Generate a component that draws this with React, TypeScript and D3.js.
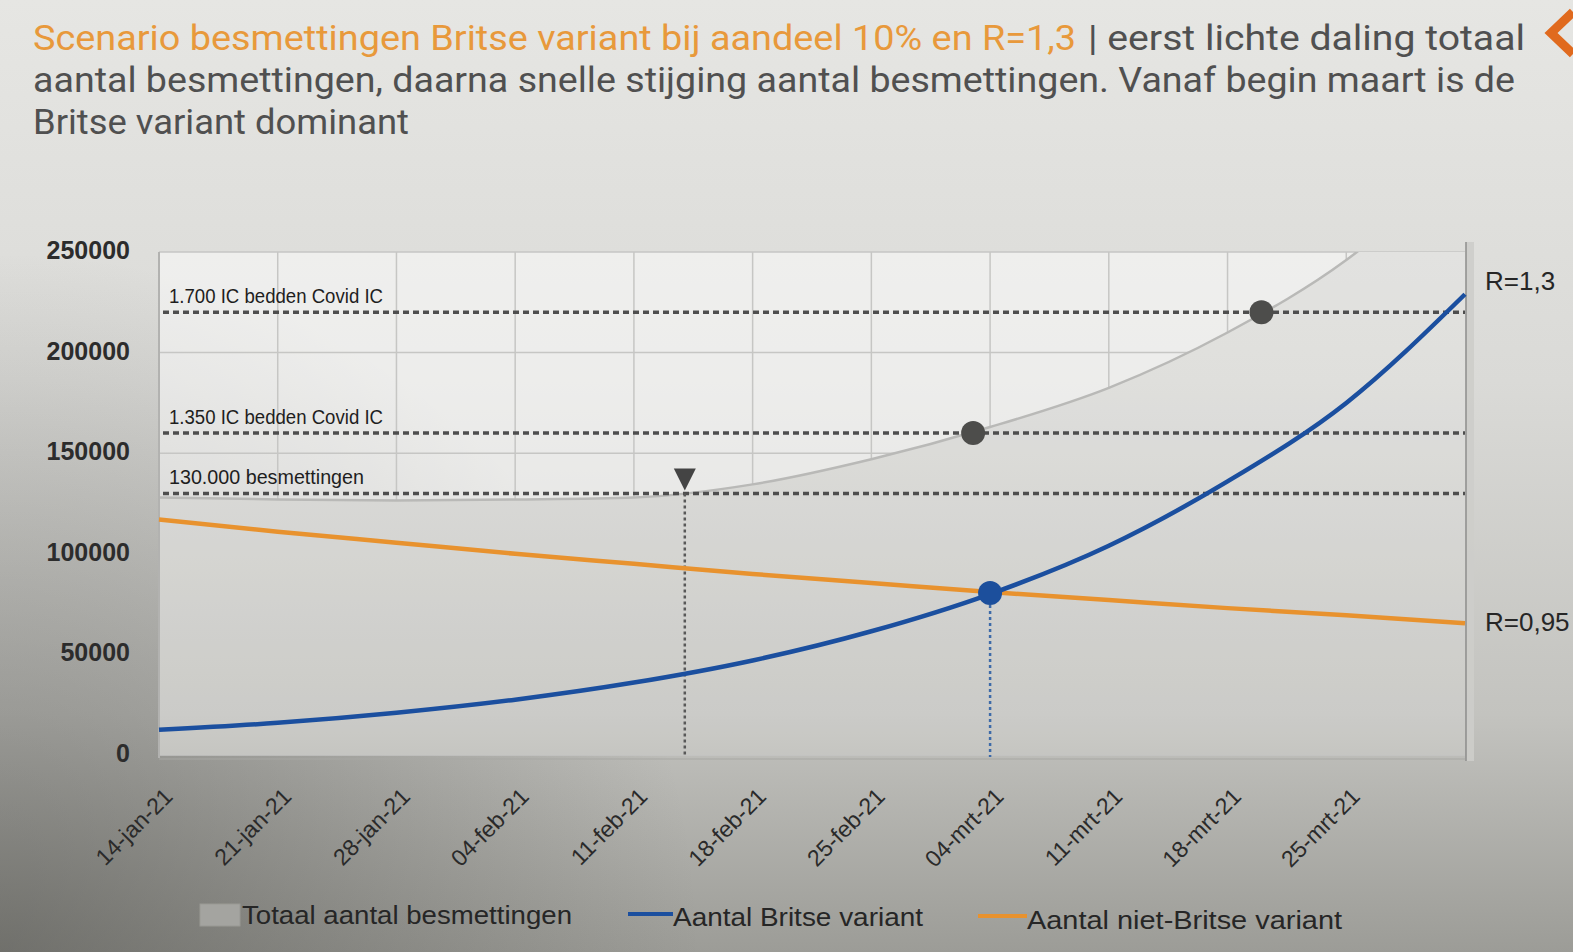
import React, { useEffect, useRef } from 'react';
import * as d3 from 'd3';

// weekly points
const datums = [
  '2021-01-14', '2021-01-21', '2021-01-28', '2021-02-04', '2021-02-11', '2021-02-18',
  '2021-02-25', '2021-03-04', '2021-03-11', '2021-03-18', '2021-03-25', '2021-04-01',
];
const totaal = [128000, 127000, 126500, 127000, 128000, 134500, 147000, 163000, 182500, 210000, 246000, 297000];
const britse = [12500, 16000, 21000, 27500, 36000, 47000, 61500, 80000, 104000, 136000, 175000, 229000];
const nietBritse = [117000, 111000, 105500, 100000, 95000, 90000, 85500, 81000, 77000, 73000, 69500, 65500];

const tickLabels = [
  '14-jan-21', '21-jan-21', '28-jan-21', '04-feb-21', '11-feb-21', '18-feb-21',
  '25-feb-21', '04-mrt-21', '11-mrt-21', '18-mrt-21', '25-mrt-21',
];
const yTicks = [0, 50000, 100000, 150000, 200000, 250000];

const drempels = [
  { value: 220000, label: '1.700 IC bedden Covid IC', len: 214 },
  { value: 160000, label: '1.350 IC bedden Covid IC', len: 214 },
  { value: 130000, label: '130.000 besmettingen', len: 195 },
];

const markers = [
  { date: '2021-02-14', value: 130000, shape: 'triangle' },
  { date: '2021-03-03', value: 160000, shape: 'circle' },
  { date: '2021-03-20', value: 220000, shape: 'circle' },
  { date: '2021-03-04', value: 80500, shape: 'blue' },
];

const ORANGE = '#e8922e';
const BLUE = '#1b4f9f';
const DARK = '#262626';

const App = () => {
  const ref = useRef<SVGSVGElement>(null);

  useEffect(() => {
    const svg = d3.select(ref.current);
    svg.selectAll('*').remove();

    const W = 1573;
    const H = 952;
    const left = 159;
    const right = 1465;
    const top = 252;
    const bottom = 755;

    const parse = d3.utcParse('%Y-%m-%d');
    const dates = datums.map(d => parse(d) as Date);

    const x = d3.scaleUtc().domain([dates[0], dates[dates.length - 1]]).range([left, right]);
    const y = d3.scaleLinear().domain([0, 250000]).range([bottom, top]);

    const defs = svg.append('defs');
    const bg = defs.append('linearGradient').attr('id', 'bg')
      .attr('gradientUnits', 'userSpaceOnUse')
      .attr('x1', 0).attr('y1', 0).attr('x2', 0).attr('y2', H);
    bg.append('stop').attr('offset', '0%').attr('stop-color', '#e6e6e3');
    bg.append('stop').attr('offset', '40%').attr('stop-color', '#dadad7');
    bg.append('stop').attr('offset', '75%').attr('stop-color', '#c3c3bf');
    bg.append('stop').attr('offset', '100%').attr('stop-color', '#9c9c97');

    const vign = defs.append('radialGradient').attr('id', 'vign')
      .attr('gradientUnits', 'userSpaceOnUse')
      .attr('cx', 0).attr('cy', H).attr('r', 700);
    vign.append('stop').attr('offset', '0%').attr('stop-color', '#3a3a36').attr('stop-opacity', 0.45);
    vign.append('stop').attr('offset', '100%').attr('stop-color', '#3a3a36').attr('stop-opacity', 0);

    defs.append('clipPath').attr('id', 'plotClip')
      .append('rect').attr('x', left).attr('y', top).attr('width', right - left).attr('height', bottom - top);

    svg.attr('width', W).attr('height', H);
    svg.append('rect').attr('width', W).attr('height', H).attr('fill', 'url(#bg)');
    svg.append('rect').attr('width', W).attr('height', H).attr('fill', 'url(#vign)');

    // plot background (light, only visible above the area)
    svg.append('rect')
      .attr('x', left).attr('y', top).attr('width', right - left).attr('height', bottom - top)
      .attr('fill', 'rgba(255,255,255,0.5)');

    // grid
    const grid = svg.append('g').attr('stroke', '#c6c6c4').attr('stroke-width', 1.5);
    yTicks.forEach(v => {
      grid.append('line').attr('x1', left).attr('x2', right).attr('y1', y(v)).attr('y2', y(v));
    });
    dates.slice(0, tickLabels.length).forEach(d => {
      grid.append('line').attr('x1', x(d)).attr('x2', x(d)).attr('y1', top).attr('y2', bottom);
    });

    const rows = dates.map((d, i) => ({ date: d, totaal: totaal[i], britse: britse[i], niet: nietBritse[i] }));

    // total as area
    const area = d3.area<any>()
      .x(d => x(d.date)).y0(bottom).y1(d => y(d.totaal))
      .curve(d3.curveMonotoneX);
    const plot = svg.append('g').attr('clip-path', 'url(#plotClip)');
    plot.append('path').datum(rows).attr('d', area).attr('fill', 'url(#bg)');
    plot.append('path').datum(rows).attr('d', area).attr('fill', 'rgba(255,255,255,0.14)');
    plot.append('path').datum(rows)
      .attr('d', d3.line<any>().x(d => x(d.date)).y(d => y(d.totaal)).curve(d3.curveMonotoneX))
      .attr('fill', 'none').attr('stroke', '#b9b9b7').attr('stroke-width', 2.5);

    // frame
    svg.append('line').attr('x1', left).attr('x2', left).attr('y1', top).attr('y2', bottom + 3)
      .attr('stroke', '#b2b2b0').attr('stroke-width', 2);
    svg.append('line').attr('x1', left).attr('x2', right).attr('y1', bottom + 4).attr('y2', bottom + 4)
      .attr('stroke', '#a8a8a4').attr('stroke-width', 1.2);
    svg.append('rect').attr('x', right + 1).attr('y', top - 10).attr('width', 8).attr('height', bottom - top + 16)
      .attr('fill', 'rgba(205,205,202,0.9)');
    svg.append('line').attr('x1', right + 1).attr('x2', right + 1).attr('y1', top - 10).attr('y2', bottom + 6)
      .attr('stroke', '#8e8e8c').attr('stroke-width', 1.5);

    // threshold lines
    drempels.forEach(t => {
      svg.append('line')
        .attr('x1', left + 4).attr('x2', right).attr('y1', y(t.value)).attr('y2', y(t.value))
        .attr('stroke', '#4e4e4e').attr('stroke-width', 3.5).attr('stroke-dasharray', '6 4');
      svg.append('text')
        .attr('x', left + 10).attr('y', y(t.value) - 9)
        .attr('font-family', 'Liberation Sans, Arial, sans-serif')
        .attr('font-size', 20).attr('fill', '#1e1e1e')
        .attr('textLength', t.len).attr('lengthAdjust', 'spacingAndGlyphs')
        .text(t.label);
    });

    // vertical dotted lines from markers
    markers.filter(m => m.shape !== 'circle').forEach(m => {
      const mx = x(parse(m.date) as Date);
      svg.append('line')
        .attr('x1', mx).attr('x2', mx).attr('y1', y(m.value)).attr('y2', bottom + 2)
        .attr('stroke', m.shape === 'blue' ? '#3d6aa8' : '#585858')
        .attr('stroke-width', 2.5).attr('stroke-dasharray', '3 3');
    });

    const line = (key: string) => d3.line<any>().x(d => x(d.date)).y(d => y(d[key])).curve(d3.curveMonotoneX);
    svg.append('path').datum(rows).attr('d', line('niet'))
      .attr('fill', 'none').attr('stroke', ORANGE).attr('stroke-width', 4.5);
    svg.append('path').datum(rows).attr('d', line('britse'))
      .attr('fill', 'none').attr('stroke', BLUE).attr('stroke-width', 4.5);

    markers.forEach(m => {
      const mx = x(parse(m.date) as Date);
      const my = y(m.value);
      if (m.shape === 'triangle') {
        svg.append('path')
          .attr('d', `M${mx - 11},${my - 25} L${mx + 11},${my - 25} L${mx},${my - 3} Z`)
          .attr('fill', '#444');
      } else {
        svg.append('circle').attr('cx', mx).attr('cy', my).attr('r', 12)
          .attr('fill', m.shape === 'blue' ? '#1c4f9c' : '#4d4d4b');
      }
    });

    // y axis labels
    svg.append('g').selectAll('text').data(yTicks).enter().append('text')
      .attr('x', 130).attr('y', d => y(d) - 2).attr('dy', '0.36em')
      .attr('text-anchor', 'end')
      .attr('font-family', 'Liberation Sans, Arial, sans-serif')
      .attr('font-weight', 'bold').attr('font-size', 25).attr('fill', '#2c2c2c')
      .text(d => d);

    // x axis labels
    svg.append('g').selectAll('text').data(tickLabels).enter().append('text')
      .attr('transform', (d, i) => `translate(${x(dates[i]) + 15},${bottom + 43}) rotate(-45)`)
      .attr('text-anchor', 'end')
      .attr('font-family', 'Liberation Sans, Arial, sans-serif')
      .attr('font-size', 23).attr('fill', '#2a2a2a')
      .text(d => d);

    // R labels
    const rLab = [
      { text: 'R=1,3', v: britse[britse.length - 1] },
      { text: 'R=0,95', v: nietBritse[nietBritse.length - 1] },
    ];
    rLab.forEach(r => {
      svg.append('text')
        .attr('x', 1485).attr('y', y(r.v) - (r.text === 'R=1,3' ? 4 : -8))
        .attr('font-family', 'Liberation Sans, Arial, sans-serif')
        .attr('font-size', 26).attr('fill', DARK)
        .text(r.text);
    });

    // legend
    const lg = svg.append('g')
      .attr('font-family', 'Liberation Sans, Arial, sans-serif')
      .attr('font-size', 26).attr('fill', '#262626');
    lg.append('rect').attr('x', 200).attr('y', 904).attr('width', 40).attr('height', 22)
      .attr('fill', '#a4a4a0').attr('stroke', '#999994');
    lg.append('text').attr('x', 242).attr('y', 924).attr('textLength', 330)
      .attr('lengthAdjust', 'spacingAndGlyphs').text('Totaal aantal besmettingen');
    lg.append('line').attr('x1', 628).attr('x2', 673).attr('y1', 914).attr('y2', 914)
      .attr('stroke', BLUE).attr('stroke-width', 4);
    lg.append('text').attr('x', 673).attr('y', 926).attr('textLength', 250)
      .attr('lengthAdjust', 'spacingAndGlyphs').text('Aantal Britse variant');
    lg.append('line').attr('x1', 978).attr('x2', 1027).attr('y1', 916).attr('y2', 916)
      .attr('stroke', ORANGE).attr('stroke-width', 4);
    lg.append('text').attr('x', 1027).attr('y', 929).attr('textLength', 315)
      .attr('lengthAdjust', 'spacingAndGlyphs').text('Aantal niet-Britse variant');

    // title
    const tf = 'Roboto, "Noto Sans", sans-serif';
    const title = [
      { text: 'Scenario besmettingen Britse variant bij aandeel 10% en R=1,3', x: 33, y: 50, len: 1043, color: '#e8993b' },
      { text: '| eerst lichte daling totaal', x: 1088, y: 50, len: 437, color: '#505050' },
      { text: 'aantal besmettingen, daarna snelle stijging aantal besmettingen. Vanaf begin maart is de', x: 33, y: 92, len: 1482, color: '#505050' },
      { text: 'Britse variant dominant', x: 33, y: 134, len: 376, color: '#505050' },
    ];
    title.forEach(t => {
      svg.append('text')
        .attr('x', t.x).attr('y', t.y)
        .attr('font-family', tf).attr('font-size', 35).attr('fill', t.color)
        .attr('textLength', t.len).attr('lengthAdjust', 'spacingAndGlyphs')
        .text(t.text);
    });

    // slide decoration in the corner
    svg.append('path').attr('d', 'M1573,12 L1551,33 L1573,54')
      .attr('fill', 'none').attr('stroke', '#e06a1e').attr('stroke-width', 9);
  }, []);

  return (
    <svg ref={ref} style={{ position: 'absolute', left: 0, top: 0, display: 'block' }}></svg>
  );
};

export default App;
